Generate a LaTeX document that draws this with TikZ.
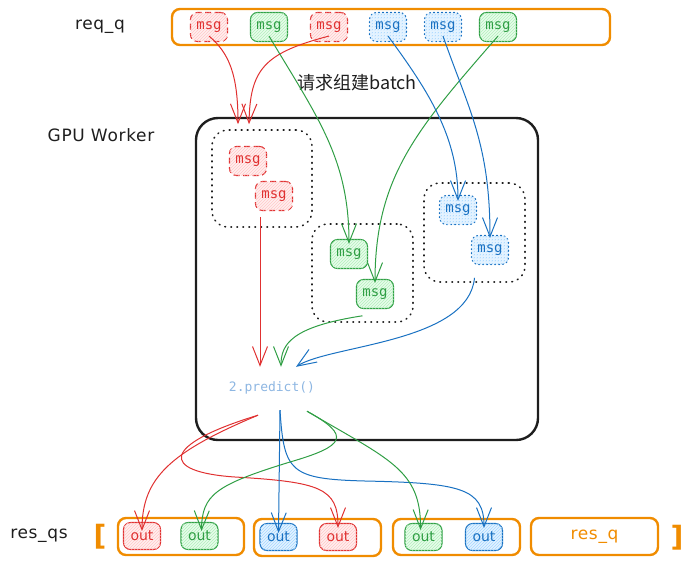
\documentclass[tikz,border=0pt]{standalone}
\usepackage{fontspec}
\setmainfont{DejaVu Sans}
\newfontfamily\msgfont{DejaVu Sans Mono}
\newfontfamily\cjkfont{Noto Sans CJK SC}
\usetikzlibrary{arrows.meta,patterns}

\definecolor{xred}{HTML}{E03131}
\definecolor{xredfill}{HTML}{FFC9C9}
\definecolor{xgreen}{HTML}{2F9E44}
\definecolor{xgreenfill}{HTML}{B2F2BB}
\definecolor{xblue}{HTML}{1971C2}
\definecolor{xbluefill}{HTML}{A5D8FF}
\definecolor{xorange}{HTML}{F08C00}
\definecolor{xpredict}{HTML}{8DB6E2}
\definecolor{xink}{HTML}{1E1E1E}

\tikzset{
  % message and output boxes
  msgbox/.style={rounded corners=7pt, minimum width=37pt, minimum height=29pt, inner sep=0pt, line width=1.1pt, font=\msgfont\fontsize{14}{16}\selectfont},
  redmsg/.style={msgbox, draw=xred, text=xred, dash pattern=on 6pt off 3.5pt, fill=xredfill!30, postaction={pattern=north east lines, pattern color=xredfill}},
  greenmsg/.style={msgbox, draw=xgreen, text=xgreen, fill=xgreenfill!30, postaction={pattern=north east lines, pattern color=xgreenfill}},
  bluemsg/.style={msgbox, draw=xblue, text=xblue, line cap=round, dash pattern=on 1pt off 3pt, fill=xbluefill!30, postaction={pattern=north east lines, pattern color=xbluefill}},
  outbox/.style={rounded corners=7pt, minimum width=37pt, minimum height=27pt, inner sep=0pt, line width=1.1pt, font=\fontsize{14}{16}\selectfont},
  redout/.style={outbox, draw=xred, text=xred, fill=xredfill!30, postaction={pattern=north east lines, pattern color=xredfill}},
  greenout/.style={outbox, draw=xgreen, text=xgreen, fill=xgreenfill!30, postaction={pattern=north east lines, pattern color=xgreenfill}},
  blueout/.style={outbox, draw=xblue, text=xblue, fill=xbluefill!30, postaction={pattern=north east lines, pattern color=xbluefill}},
  % containers
  queuebox/.style={draw=xorange, line width=2.4pt, rounded corners=8pt, inner sep=0pt},
  groupbox/.style={draw=xink, line width=1.6pt, line cap=round, dash pattern=on 0.8pt off 5.2pt, rounded corners=16pt, inner sep=0pt},
  label/.style={font=\fontsize{17}{20}\selectfont\addfontfeature{LetterSpace=4}, text=xink},
  % connectors
  arr/.style={line width=1pt, -{Straight Barb[length=19pt,width=15pt,line width=1pt]}},
  redarr/.style={arr, draw=xred},
  greenarr/.style={arr, draw=xgreen},
  bluearr/.style={arr, draw=xblue}
}

\begin{document}
\begin{tikzpicture}[x=1pt,y=1pt,yscale=-1]
  \useasboundingbox (0,0) rectangle (692,573);

  % request queue
  \node[label] (reqlbl) at (100,27) {req\_q};
  \node[queuebox, minimum width=438pt, minimum height=36pt] (reqq) at (391,27) {};
  \node[redmsg]   (m1) at (209,27) {msg};
  \node[greenmsg] (m2) at (269,27) {msg};
  \node[redmsg]   (m3) at (329,27) {msg};
  \node[bluemsg]  (m4) at (388,27) {msg};
  \node[bluemsg]  (m5) at (443,27) {msg};
  \node[greenmsg] (m6) at (498,27) {msg};

  \node[font=\cjkfont\fontsize{18}{20}\selectfont, text=xink] (batchlbl) at (357,83) {请求组建batch};

  % worker
  \node[label] (gpulbl) at (101,135) {GPU Worker};
  \node[draw=xink, line width=2.4pt, rounded corners=22pt, minimum width=342pt, minimum height=322pt] (gpu) at (367,279) {};

  \node[groupbox, minimum width=100pt, minimum height=97pt] (redgrp) at (262,178.5) {};
  \node[redmsg] (rmA) at (248,161) {msg};
  \node[redmsg] (rmB) at (274,196) {msg};

  \node[groupbox, minimum width=101pt, minimum height=98pt] (grngrp) at (362.5,273) {};
  \node[greenmsg] (gmA) at (349,254) {msg};
  \node[greenmsg] (gmB) at (375,294) {msg};

  \node[groupbox, minimum width=101pt, minimum height=99pt] (blugrp) at (474.5,232.5) {};
  \node[bluemsg] (bmA) at (458,210) {msg};
  \node[bluemsg] (bmB) at (490,250) {msg};

  \node[inner sep=0pt, minimum height=42pt, text=xpredict, font=\msgfont\fontsize{13}{15}\selectfont] (pred) at (272,388) {2.predict()};

  % result queues
  \node[label] (resqslbl) at (39,536) {res\_qs};
  \node[text=xorange, font=\bfseries\fontsize{28}{30}\selectfont, inner sep=0pt] (lbrk) at (100,537) {[};
  \node[text=xorange, font=\bfseries\fontsize{28}{30}\selectfont, inner sep=0pt] (rbrk) at (677,538) {]};

  \node[queuebox, minimum width=126pt, minimum height=37pt] (rq1) at (181,536.5) {};
  \node[queuebox, minimum width=127pt, minimum height=37pt] (rq2) at (317.5,537.5) {};
  \node[queuebox, minimum width=127pt, minimum height=36pt] (rq3) at (456.5,537) {};
  \node[queuebox, minimum width=127pt, minimum height=37pt, text=xorange, font=\fontsize{17}{20}\selectfont\addfontfeature{LetterSpace=4}] (rq4) at (594.5,536.5) {res\_q};

  \node[redout]   (o1) at (142,536) {out};
  \node[greenout] (o2) at (199.5,536) {out};
  \node[blueout]  (o3) at (278.5,537) {out};
  \node[redout]   (o4) at (338,537) {out};
  \node[greenout] (o5) at (423.5,537) {out};
  \node[blueout]  (o6) at (484,537) {out};

  % batching
  \draw[redarr] ([yshift=-6pt]m1.south) .. controls +(20,17) and +(0,-50) .. ([xshift=-24pt,yshift=-5pt]redgrp.north);
  \draw[redarr] ([yshift=-6pt]m3.south) .. controls +(-65,17) and +(1,-55) .. ([xshift=-13pt,yshift=-5pt]redgrp.north);
  \draw[greenarr] ([yshift=-6pt]m2.south) .. controls +(49,82) and +(0,-85) .. ([yshift=5pt]gmA.north);
  \draw[greenarr] ([yshift=-6pt]m6.south) .. controls +(-80,92) and +(0,-107) .. ([yshift=4pt]gmB.north);
  \draw[bluearr] ([yshift=-6pt]m4.south) .. controls +(42,57) and +(0,-63) .. ([yshift=6pt]bmA.north);
  \draw[bluearr] ([yshift=-6pt]m5.south) .. controls +(25,72) and +(0,-95) .. ([yshift=3pt]bmB.north);

  % into predict
  \draw[redarr] ([xshift=-2pt,yshift=-11pt]redgrp.south) -- ([xshift=-12pt]pred.north);
  \draw[greenarr] ([yshift=-7pt]grngrp.south) .. controls +(-72,11) and +(0,-22) .. ([xshift=9pt]pred.north);
  \draw[bluearr] ([yshift=-5pt]blugrp.south) .. controls +(-6,65) and +(34,-22) .. ([xshift=24pt]pred.north);

  % out of predict
  \draw[redarr] ([xshift=-14pt,yshift=6pt]pred.south) .. controls +(-88,37) and +(0,-53) .. ([yshift=9pt]o1.north);
  \draw[redarr] ([xshift=-14pt,yshift=6pt]pred.south) .. controls (160,445) and (160,472) .. (235,477) .. controls (320,482) and (338,488) .. ([yshift=5pt]o4.north);
  \draw[bluearr] ([xshift=8pt,yshift=1pt]pred.south) -- ([yshift=10pt]o3.north);
  \draw[bluearr] ([xshift=8pt,yshift=1pt]pred.south) .. controls (284,472) and (290,479) .. (365,481) .. controls (460,483) and (484,488) .. ([yshift=5pt]o6.north);
  \draw[greenarr] ([xshift=35pt,yshift=2pt]pred.south) .. controls (352,436) and (345,446) .. (290,462) .. controls (215,485) and (202,495) .. ([xshift=2pt,yshift=9pt]o2.north);
  \draw[greenarr] ([xshift=35pt,yshift=2pt]pred.south) .. controls (390,460) and (421,470) .. ([xshift=-3pt,yshift=7pt]o5.north);
\end{tikzpicture}
\end{document}
